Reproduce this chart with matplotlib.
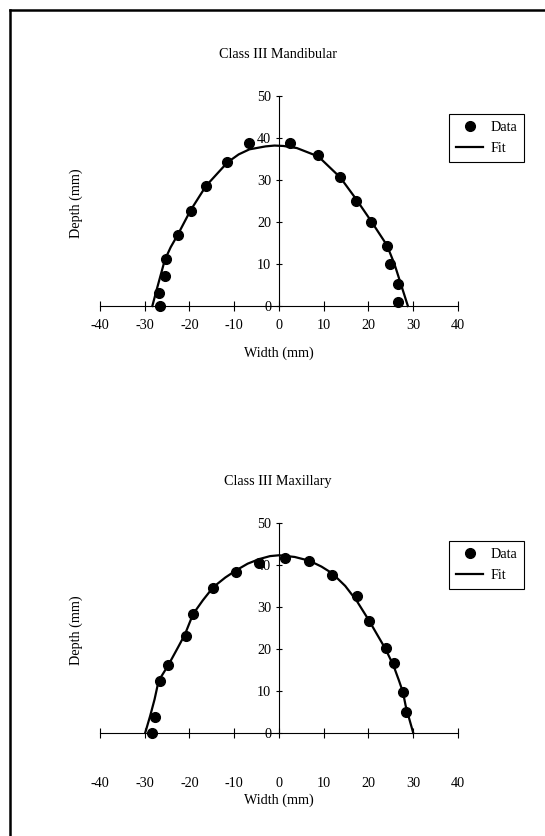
import matplotlib
matplotlib.use("Agg")
import matplotlib.pyplot as plt
from matplotlib.lines import Line2D

plt.rcParams['font.family'] = ['Liberation Serif', 'DejaVu Serif']
plt.rcParams['font.size'] = 10.2
plt.rcParams['axes.unicode_minus'] = False

mand_x = [-26.6, -26.8, -25.5, -25.2, -22.5, -19.7, -16.2, -11.7, -6.6,
          2.5, 8.8, 13.7, 17.2, 20.6, 24.1, 24.9, 26.6, 26.6]
mand_y = [0.0, 3.2, 7.1, 11.1, 16.9, 22.7, 28.6, 34.2, 38.9,
          38.7, 35.9, 30.6, 25.0, 19.9, 14.3, 10.0, 5.2, 1.0]
mand_fit_x = [-28.3, -27.3, -26.4, -25.5, -24.2, -22.6, -19.8, -16.3, -11.5, -9.0,
              -6.6, -3.0, -1.0, 1.0, 4.0, 8.8, 13.7, 17.2, 20.6, 24.1, 25.8, 27.3, 28.8]
mand_fit_y = [0.0, 4.0, 7.5, 11.0, 14.0, 17.0, 22.7, 28.6, 34.2, 36.1,
              37.3, 38.0, 38.2, 38.1, 37.6, 35.6, 30.6, 25.5, 20.2, 14.5, 10.0, 5.0, 0.0]

# Class III Maxillary
max_x = [-28.4, -27.7, -26.6, -24.7, -20.7, -19.2, -14.7, -9.6, -4.4,
         1.3, 6.8, 11.9, 17.4, 20.1, 23.8, 25.6, 27.7, 28.3]
max_y = [0.0, 3.9, 12.4, 16.2, 23.1, 28.3, 34.6, 38.2, 40.4,
         41.7, 41.0, 37.6, 32.5, 26.7, 20.2, 16.6, 9.7, 5.1]
max_fit_x = [-29.9, -28.8, -27.8, -26.9, -24.7, -22.5, -21.0, -19.2, -17.0, -14.7,
             -12.0, -9.6, -7.0, -4.4, -2.0, 0.0, 3.5, 6.8, 9.5, 11.9, 14.8, 17.4,
             20.1, 22.0, 23.8, 25.6, 26.8, 27.7, 28.3, 29.2, 30.0]
max_fit_y = [0.0, 4.0, 8.0, 12.4, 16.2, 20.5, 23.5, 28.3, 31.6, 34.7,
             37.0, 38.7, 40.3, 41.4, 42.1, 42.3, 41.9, 41.0, 39.6, 38.0, 35.0, 31.4,
             26.8, 23.3, 20.0, 16.0, 12.5, 9.7, 6.5, 3.0, 0.0]

x_ticks = [-40, -30, -20, -10, 0, 10, 20, 30, 40]
y_ticks = [0, 10, 20, 30, 40, 50]

W, H = 545, 836
fig = plt.figure(figsize=(W / 100, H / 100), dpi=100)

# title, data, fit, axes bottom, title y(px), legend top(px), x tick pad, xlabel y
panels = [
    ("Class III Mandibular", mand_x, mand_y, mand_fit_x, mand_fit_y, 0.6264, 55, 114, 6, -0.155),
    ("Class III Maxillary", max_x, max_y, max_fit_x, max_fit_y, 0.1157, 482, 541, 28, -0.25),
]

for title, dx, dy, fx, fy, bottom, title_y, leg_y, xpad, xlab_y in panels:
    ax = fig.add_axes([0.1752, bottom, 0.6734, 0.2613])
    ax.plot(dx, dy, 'o', color='black', markersize=7, label='Data')
    ax.plot(fx, fy, '-', color='black', linewidth=1.6, label='Fit')
    ax.set_xlim(-41, 41)
    ax.set_ylim(-1.5, 50.5)

    for side in ['top', 'right']:
        ax.spines[side].set_visible(False)
    ax.spines['left'].set_position(('data', 0))
    ax.spines['bottom'].set_position(('data', 0))
    ax.spines['left'].set_bounds(0, 50)
    ax.spines['bottom'].set_bounds(-40, 40)
    ax.spines['left'].set_linewidth(0.8)
    ax.spines['bottom'].set_linewidth(0.8)

    ax.set_xticks(x_ticks)
    ax.set_yticks(y_ticks)
    ax.tick_params(axis='x', direction='inout', length=7, width=0.8, pad=xpad)
    ax.tick_params(axis='y', direction='inout', length=5, width=0.8, pad=3)

    ax.set_xlabel('Width (mm)')
    ax.set_ylabel('Depth (mm)')
    ax.xaxis.set_label_coords(0.5, xlab_y)
    ax.yaxis.set_label_coords(-0.035, 0.5)

    fig.text(0.51, 1 - title_y / H, title, ha='center', va='center')

    ax.legend(loc='upper left', bbox_to_anchor=(449 / W, 1 - leg_y / H),
              bbox_transform=fig.transFigure, borderaxespad=0,
              fancybox=False, edgecolor='black', framealpha=1,
              handlelength=1.9, handletextpad=0.5, borderpad=0.5,
              labelspacing=0.55, numpoints=1)
    ax.get_legend().get_frame().set_linewidth(0.8)

# page border from the scan (top and left edges)
fig.add_artist(Line2D([10 / W, 1], [1 - 10 / H, 1 - 10 / H], color='black', linewidth=1.8))
fig.add_artist(Line2D([10 / W, 10 / W], [0, 1 - 10 / H], color='black', linewidth=1.8))

fig.savefig('out.png', dpi=100)
